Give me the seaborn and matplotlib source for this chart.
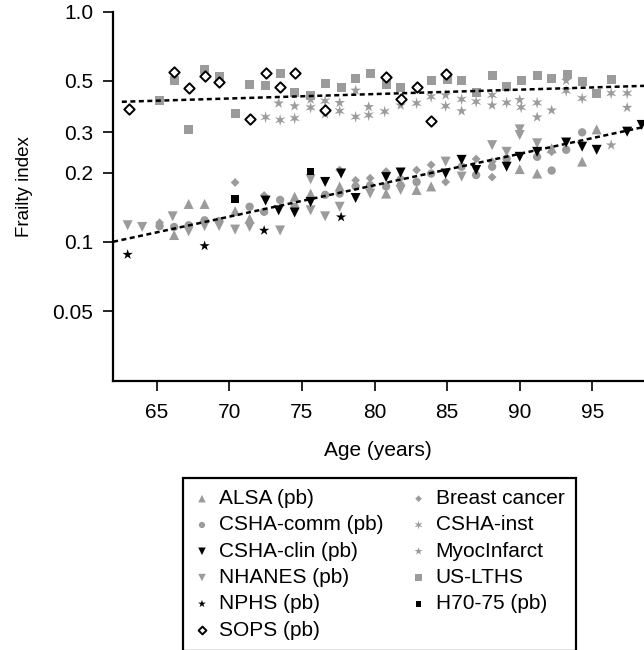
import matplotlib
matplotlib.use("Agg")
import matplotlib.pyplot as plt
import seaborn as sns
from matplotlib.path import Path
from matplotlib.ticker import NullLocator

# Frailty index by age (y is on a log scale)
alsa_age = [66.2, 67.2, 68.3, 70.4, 71.4, 74.5, 75.6, 77.6, 80.8, 82.9, 83.9, 90.0, 91.2, 92.2, 94.3, 95.3]
alsa_fi = [0.107, 0.146, 0.146, 0.136, 0.126, 0.157, 0.162, 0.174, 0.162, 0.168, 0.174, 0.207, 0.198, 0.255, 0.223, 0.308]

comm_age = [65.2, 66.2, 67.2, 68.3, 69.3, 71.4, 72.4, 73.5, 74.5, 76.6, 77.6, 78.7, 79.7, 80.8, 81.8, 82.9,
            83.9, 86.0, 87.0, 88.1, 89.1, 91.2, 92.2, 93.2, 94.3]
comm_fi = [0.117, 0.116, 0.118, 0.124, 0.123, 0.142, 0.135, 0.152, 0.142, 0.160, 0.162, 0.174, 0.176, 0.174, 0.176, 0.182,
           0.198, 0.212, 0.195, 0.212, 0.230, 0.234, 0.204, 0.251, 0.299]

clin_age = [72.5, 73.4, 74.5, 75.6, 76.6, 77.7, 78.7, 80.8, 81.8, 84.9, 86.0, 87.0, 89.1, 90.0, 91.2, 93.2,
            94.3, 95.3, 97.4, 98.4]
clin_fi = [0.151, 0.137, 0.134, 0.149, 0.182, 0.198, 0.155, 0.191, 0.200, 0.198, 0.227, 0.205, 0.212, 0.234, 0.246, 0.270,
           0.259, 0.251, 0.301, 0.322]

nhanes_age = [63.0, 64.0, 66.1, 67.2, 68.3, 69.3, 70.4, 71.4, 73.5, 75.6, 75.6, 76.6, 77.6, 79.7, 81.8, 84.9,
              86.0, 88.1, 89.1, 90.0, 90.0, 91.2]
nhanes_fi = [0.118, 0.116, 0.129, 0.111, 0.117, 0.117, 0.113, 0.116, 0.112, 0.187, 0.137, 0.129, 0.142, 0.162, 0.168, 0.223,
             0.192, 0.263, 0.246, 0.308, 0.291, 0.268]

nphs_age = [63.0, 68.3, 72.4, 77.7]
nphs_fi = [0.088, 0.096, 0.112, 0.128]

sops_age = [63.1, 66.2, 67.2, 68.3, 69.3, 71.4, 72.5, 73.5, 74.5, 76.6, 80.8, 81.8, 82.9, 83.9, 84.9]
sops_fi = [0.376, 0.549, 0.467, 0.527, 0.497, 0.343, 0.543, 0.469, 0.540, 0.373, 0.518, 0.417, 0.472, 0.335, 0.534]

breast_age = [65.2, 70.4, 72.4, 77.6, 78.7, 79.7, 80.8, 81.8, 82.9, 83.9, 84.9, 87.0, 88.1, 88.1, 92.2]
breast_fi = [0.121, 0.181, 0.159, 0.205, 0.185, 0.189, 0.202, 0.189, 0.205, 0.216, 0.182, 0.229, 0.223, 0.191, 0.246]

inst_age = [72.5, 73.5, 74.5, 75.6, 76.6, 77.6, 78.7, 79.6, 80.7, 82.9, 83.9, 84.9, 86.0, 87.0, 88.1, 89.1,
            90.1, 91.2, 93.2, 94.3, 96.3, 97.4]
inst_fi = [0.348, 0.338, 0.344, 0.383, 0.409, 0.370, 0.349, 0.355, 0.368, 0.400, 0.427, 0.389, 0.416, 0.406, 0.434, 0.402,
           0.384, 0.402, 0.453, 0.420, 0.442, 0.442]

myoc_age = [73.4, 74.5, 75.6, 76.6, 77.6, 78.7, 79.6, 81.8, 84.9, 86.0, 88.1, 90.0, 91.2, 92.2, 93.2, 96.3, 97.4]
myoc_fi = [0.400, 0.389, 0.416, 0.359, 0.402, 0.455, 0.386, 0.392, 0.434, 0.370, 0.392, 0.414, 0.348, 0.373, 0.502,
           0.263, 0.383]

lths_age = [65.2, 66.2, 67.2, 68.3, 69.3, 70.4, 71.4, 72.5, 73.5, 74.5, 75.6, 76.6, 77.7, 78.7, 79.7, 80.8,
            81.8, 83.9, 85.0, 86.0, 87.0, 88.1, 89.1, 90.1, 91.2, 92.2, 93.3, 94.3, 95.3, 96.3]
lths_fi = [0.410, 0.502, 0.307, 0.558, 0.521, 0.360, 0.482, 0.476, 0.540, 0.446, 0.434, 0.488, 0.467, 0.513, 0.540, 0.483,
           0.469, 0.502, 0.505, 0.502, 0.446, 0.527, 0.475, 0.502, 0.527, 0.510, 0.534, 0.497, 0.442, 0.505]

h70_age = [70.4, 75.6]
h70_fi = [0.153, 0.202]

# dashed fitted lines (end points)
upper_fit_age = [62.6, 99.0]
upper_fit_fi = [0.406, 0.477]
lower_fit_age = [62.0, 99.0]
lower_fit_fi = [0.100, 0.320]

xticks = [65, 70, 75, 80, 85, 90, 95]
yticks = [0.05, 0.1, 0.2, 0.3, 0.5, 1.0]
ytick_labels = ["0.05", "0.1", "0.2", "0.3", "0.5", "1.0"]

sns.set_theme(style="ticks")
plt.rcParams["font.family"] = ["Liberation Sans", "DejaVu Sans"]

gray = "#9b9b9b"
asterisk = Path.unit_regular_star(6, 0.35)

fig = plt.figure(figsize=(6.44, 6.5), dpi=100)
ax = fig.add_axes([0.1750, 0.4143, 0.8250, 0.5677])
ax.set_yscale("log")

# (ages, values, label, marker, face, edge, size, zorder)
series = [
    (alsa_age, alsa_fi, "ALSA (pb)", "^", gray, "none", 52, 4),
    (comm_age, comm_fi, "CSHA-comm (pb)", "o", gray, "none", 36, 4),
    (clin_age, clin_fi, "CSHA-clin (pb)", "v", "black", "none", 52, 6),
    (nhanes_age, nhanes_fi, "NHANES (pb)", "v", gray, "none", 52, 4),
    (nphs_age, nphs_fi, "NPHS (pb)", "*", "black", "none", 60, 6),
    (sops_age, sops_fi, "SOPS (pb)", "D", "white", "black", 28, 5),
    (breast_age, breast_fi, "Breast cancer", "D", gray, "none", 20, 4),
    (inst_age, inst_fi, "CSHA-inst", asterisk, gray, "none", 75, 3),
    (myoc_age, myoc_fi, "MyocInfarct", "*", gray, "none", 65, 3),
    (lths_age, lths_fi, "US-LTHS", "s", gray, "none", 42, 3),
    (h70_age, h70_fi, "H70-75 (pb)", "s", "black", "none", 30, 6),
]
for age, fi, label, marker, face, edge, size, z in series:
    sns.scatterplot(x=age, y=fi, marker=marker, color=face, edgecolor=edge,
                    linewidth=1.4 if edge != "none" else 0, s=size,
                    label=label, zorder=z, ax=ax)

for fx, fy in [(upper_fit_age, upper_fit_fi), (lower_fit_age, lower_fit_fi)]:
    sns.lineplot(x=fx, y=fy, color="black", linewidth=1.8,
                 linestyle=(0, (2.0, 1.4)), legend=False, zorder=7, ax=ax)

ax.set_xlim(61.97, 98.56)
ax.set_ylim(0.0249, 1.0)
ax.set_xticks(xticks)
ax.set_yticks(yticks, labels=ytick_labels)
ax.yaxis.set_minor_locator(NullLocator())
ax.tick_params(direction="out", length=7, width=1.2, color="black",
               labelsize=15, labelcolor="black")
ax.tick_params(axis="x", pad=9)
ax.tick_params(axis="y", pad=7)
sns.despine(ax=ax)
for side in ["left", "bottom"]:
    ax.spines[side].set_linewidth(1.6)
    ax.spines[side].set_color("black")

ax.set_xlabel("Age (years)", fontsize=15, color="black", labelpad=13.5)
ax.set_ylabel("Frailty index", fontsize=13.5, color="black")
ax.yaxis.set_label_coords(-0.150, 0.525)

handles, labels = ax.get_legend_handles_labels()
leg = ax.legend(handles, labels, ncol=2, loc="upper left",
                bbox_to_anchor=(182.7 / 644, 1 - 477.7 / 650),
                bbox_transform=fig.transFigure, frameon=True, fancybox=False,
                framealpha=1, edgecolor="black", fontsize=15, markerscale=0.75,
                handlelength=0.75, handletextpad=0.45, columnspacing=1.3,
                labelspacing=0.35, borderpad=0.55, borderaxespad=0)
leg.get_frame().set_linewidth(1.6)
for t in leg.get_texts():
    t.set_color("black")

fig.savefig("out.png", dpi=100)
